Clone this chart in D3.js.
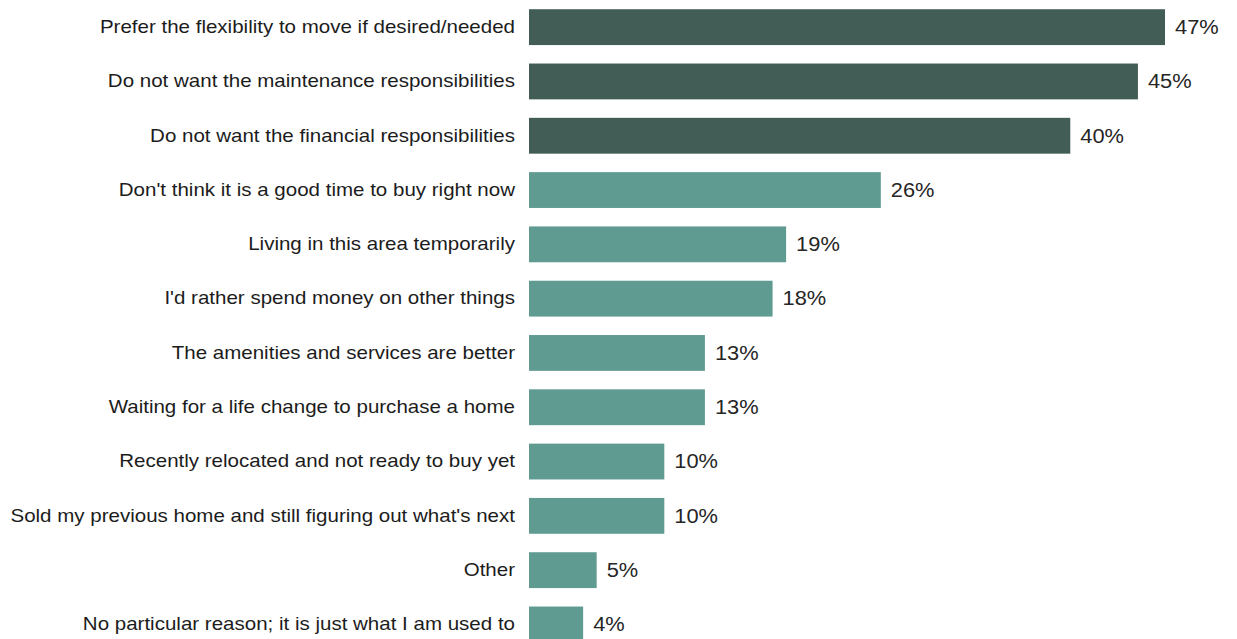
<!DOCTYPE html>
<html>
<head>
<meta charset="utf-8">
<script src="https://cdn.jsdelivr.net/npm/d3@7"></script>
<style>
  html, body { margin: 0; padding: 0; background: #ffffff; }
  svg { display: block; }
</style>
</head>
<body>
<svg id="chart" width="1237" height="639"></svg>
<script>
// Reasons for renting, share of respondents
const reasons = [
  "Prefer the flexibility to move if desired/needed",
  "Do not want the maintenance responsibilities",
  "Do not want the financial responsibilities",
  "Don't think it is a good time to buy right now",
  "Living in this area temporarily",
  "I'd rather spend money on other things",
  "The amenities and services are better",
  "Waiting for a life change to purchase a home",
  "Recently relocated and not ready to buy yet",
  "Sold my previous home and still figuring out what's next",
  "Other",
  "No particular reason; it is just what I am used to"
];
const shares = [47, 45, 40, 26, 19, 18, 13, 13, 10, 10, 5, 4];
// The top three reasons are highlighted
const highlighted = [true, true, true, false, false, false, false, false, false, false, false, false];

const rows = reasons.map((r, i) => ({ reason: r, share: shares[i], top: highlighted[i] }));

const svg = d3.select("#chart");
const left = 529;
const fontStack = "'Liberation Sans', Arial, sans-serif";

const x = d3.scaleLinear().domain([0, 47]).range([left, 1165]);
const y = d3.scaleBand()
  .domain(reasons)
  .range([0, 651.6])
  .paddingInner(0.34)
  .paddingOuter(0.17);

// Category labels via a left axis without lines
const yAxis = svg.append("g")
  .attr("transform", `translate(${left - 14},0)`)
  .call(d3.axisLeft(y).tickSize(0).tickPadding(0));
yAxis.select(".domain").remove();
yAxis.selectAll("text")
  .attr("x", 0)
  .attr("transform", "scale(1.14,1)")
  .attr("fill", "#1c1c1c")
  .style("font-family", fontStack)
  .style("font-size", "18px");

// Bars
svg.append("g").selectAll("rect")
  .data(rows)
  .join("rect")
  .attr("x", x(0))
  .attr("y", d => y(d.reason))
  .attr("width", d => x(d.share) - x(0))
  .attr("height", y.bandwidth())
  .attr("fill", d => d.top ? "#415d55" : "#609b92");

// Value labels
svg.append("g").selectAll("text")
  .data(rows)
  .join("text")
  .attr("transform", d => `translate(${x(d.share) + 10},${y(d.reason) + y.bandwidth() / 2}) scale(1.12,1)`)
  .attr("dy", "0.35em")
  .attr("fill", "#262626")
  .style("font-family", fontStack)
  .style("font-size", "19.5px")
  .text(d => d.share + "%");
</script>
</body>
</html>
